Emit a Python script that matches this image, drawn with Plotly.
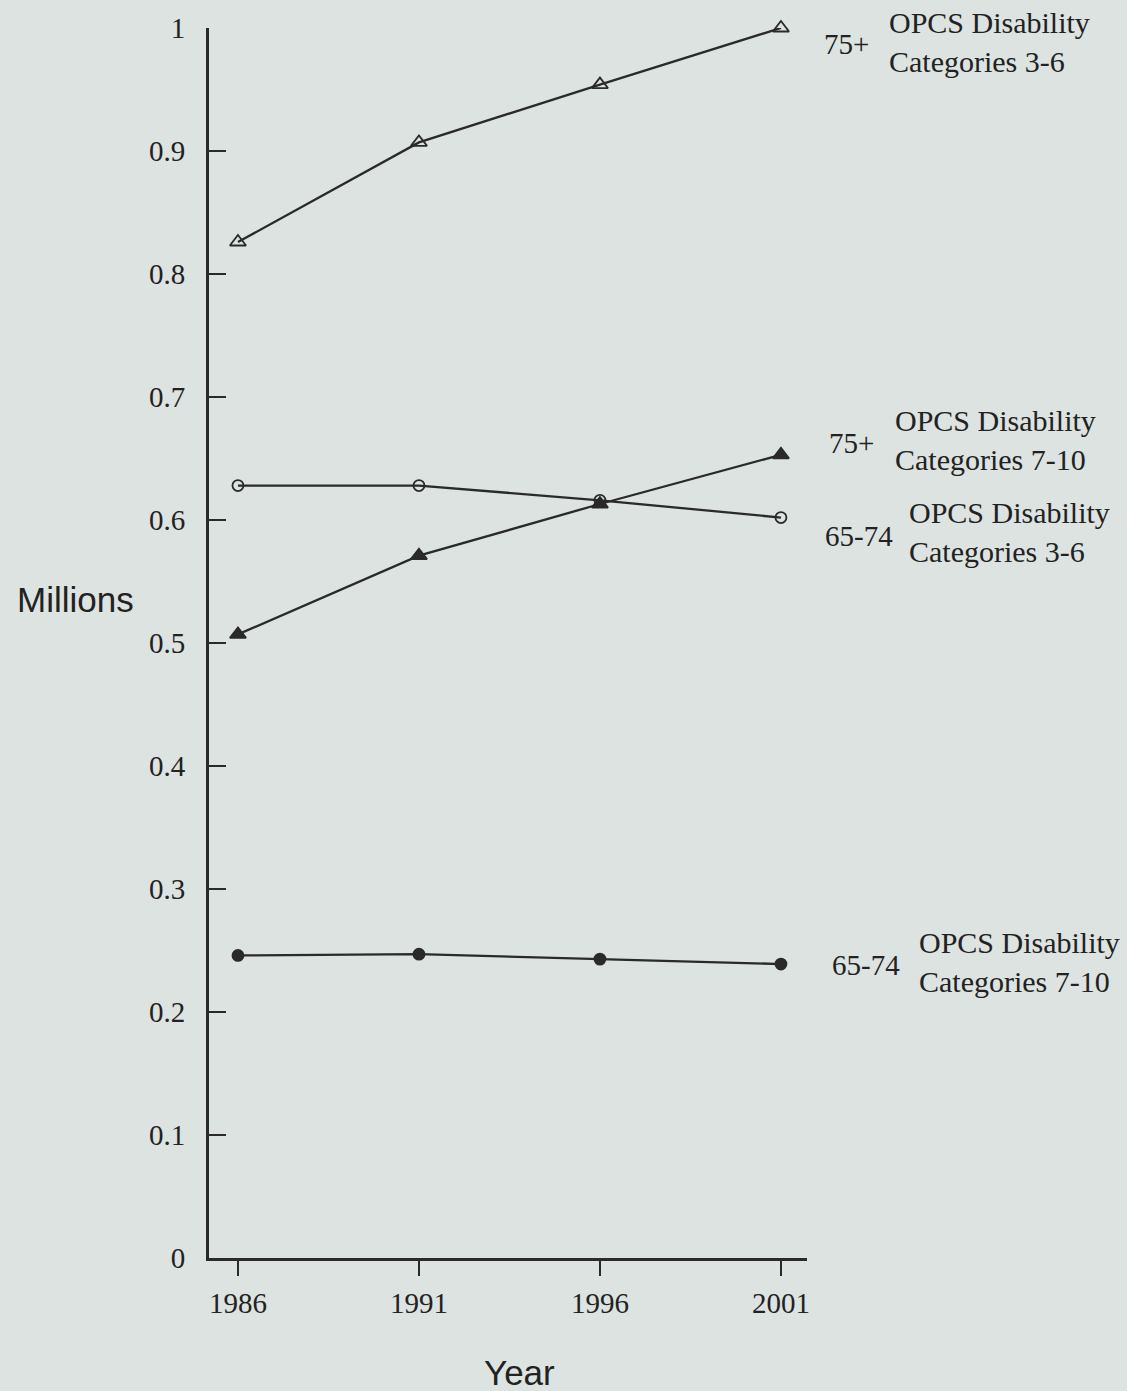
import plotly.graph_objects as go

years = [1986, 1991, 1996, 2001]
s75_cat36 = [0.826, 0.907, 0.954, 1.0]
s75_cat710 = [0.507, 0.571, 0.613, 0.653]
s6574_cat36 = [0.628, 0.628, 0.616, 0.602]
s6574_cat710 = [0.246, 0.247, 0.243, 0.239]

ytick_vals = [0, 0.1, 0.2, 0.3, 0.4, 0.5, 0.6, 0.7, 0.8, 0.9, 1.0]
ytick_text = ["0", "0.1", "0.2", "0.3", "0.4", "0.5", "0.6", "0.7", "0.8", "0.9", "1"]
xtick_text = ["1986", "1991", "1996", "2001"]

LINE = "#2a2a2a"
BG = "#dde3e1"
SERIF = "Liberation Serif, Times New Roman, serif"
SANS = "Liberation Sans, Arial, sans-serif"

fig = go.Figure()

def add(y, symbol, size, name):
    fig.add_trace(go.Scatter(
        x=years, y=y, mode="lines+markers", name=name,
        line=dict(color=LINE, width=2.3),
        marker=dict(symbol=symbol, size=size, color=LINE,
                    line=dict(color=LINE, width=1.8)),
        cliponaxis=False, showlegend=False))

add(s75_cat36, "triangle-up-open", 14, "75+ Cat 3-6")
add(s75_cat710, "triangle-up", 14, "75+ Cat 7-10")
add(s6574_cat36, "circle-open", 11, "65-74 Cat 3-6")
add(s6574_cat710, "circle", 11, "65-74 Cat 7-10")

labels = [
    ("75+", 1.025, 0.987, "OPCS Disability<br>Categories 3-6", 1.134, 0.989),
    ("75+", 1.033, 0.663, "OPCS Disability<br>Categories 7-10", 1.144, 0.665),
    ("65-74", 1.027, 0.587, "OPCS Disability<br>Categories 3-6", 1.167, 0.590),
    ("65-74", 1.038, 0.238, "OPCS Disability<br>Categories 7-10", 1.184, 0.241),
]
for age, ax, ay, txt, tx, ty in labels:
    fig.add_annotation(text=age, x=ax, y=ay, xref="paper", yref="y",
                       xanchor="left", yanchor="middle", showarrow=False,
                       font=dict(family=SERIF, size=29, color="#222"))
    fig.add_annotation(text=txt, x=tx, y=ty, xref="paper", yref="y",
                       xanchor="left", yanchor="middle", align="left",
                       showarrow=False,
                       font=dict(family=SERIF, size=30, color="#222"))

fig.add_annotation(text="Millions", x=-0.224, y=0.535, xref="paper", yref="paper",
                   xanchor="center", yanchor="middle", showarrow=False,
                   font=dict(family=SANS, size=35, color="#222"))
fig.add_annotation(text="Year", x=0.52, y=-0.093, xref="paper", yref="paper",
                   xanchor="center", yanchor="middle", showarrow=False,
                   font=dict(family=SANS, size=35, color="#222"))

fig.update_layout(
    width=1127, height=1391,
    margin=dict(l=209, r=320, t=22, b=133),
    paper_bgcolor=BG, plot_bgcolor=BG,
    xaxis=dict(range=[1985.2, 2001.72], tickvals=years, ticktext=xtick_text,
               showgrid=False, zeroline=False, showline=True, linecolor=LINE,
               linewidth=2.8, ticks="outside", ticklen=15, tickwidth=2,
               tickcolor=LINE, ticklabelstandoff=2,
               tickfont=dict(family=SERIF, size=29, color="#222")),
    yaxis=dict(range=[0, 1.0], tickvals=ytick_vals, ticktext=ytick_text,
               showgrid=False, zeroline=False, showline=True, linecolor=LINE,
               linewidth=2.8, ticks="inside", ticklen=17, tickwidth=2,
               tickcolor=LINE, ticklabelstandoff=15,
               tickfont=dict(family=SERIF, size=29, color="#222")),
)

fig.write_html(
    "out.html",
    config={"displayModeBar": False},
    post_script="document.body.style.margin='0';document.body.style.background='%s';" % BG,
)
